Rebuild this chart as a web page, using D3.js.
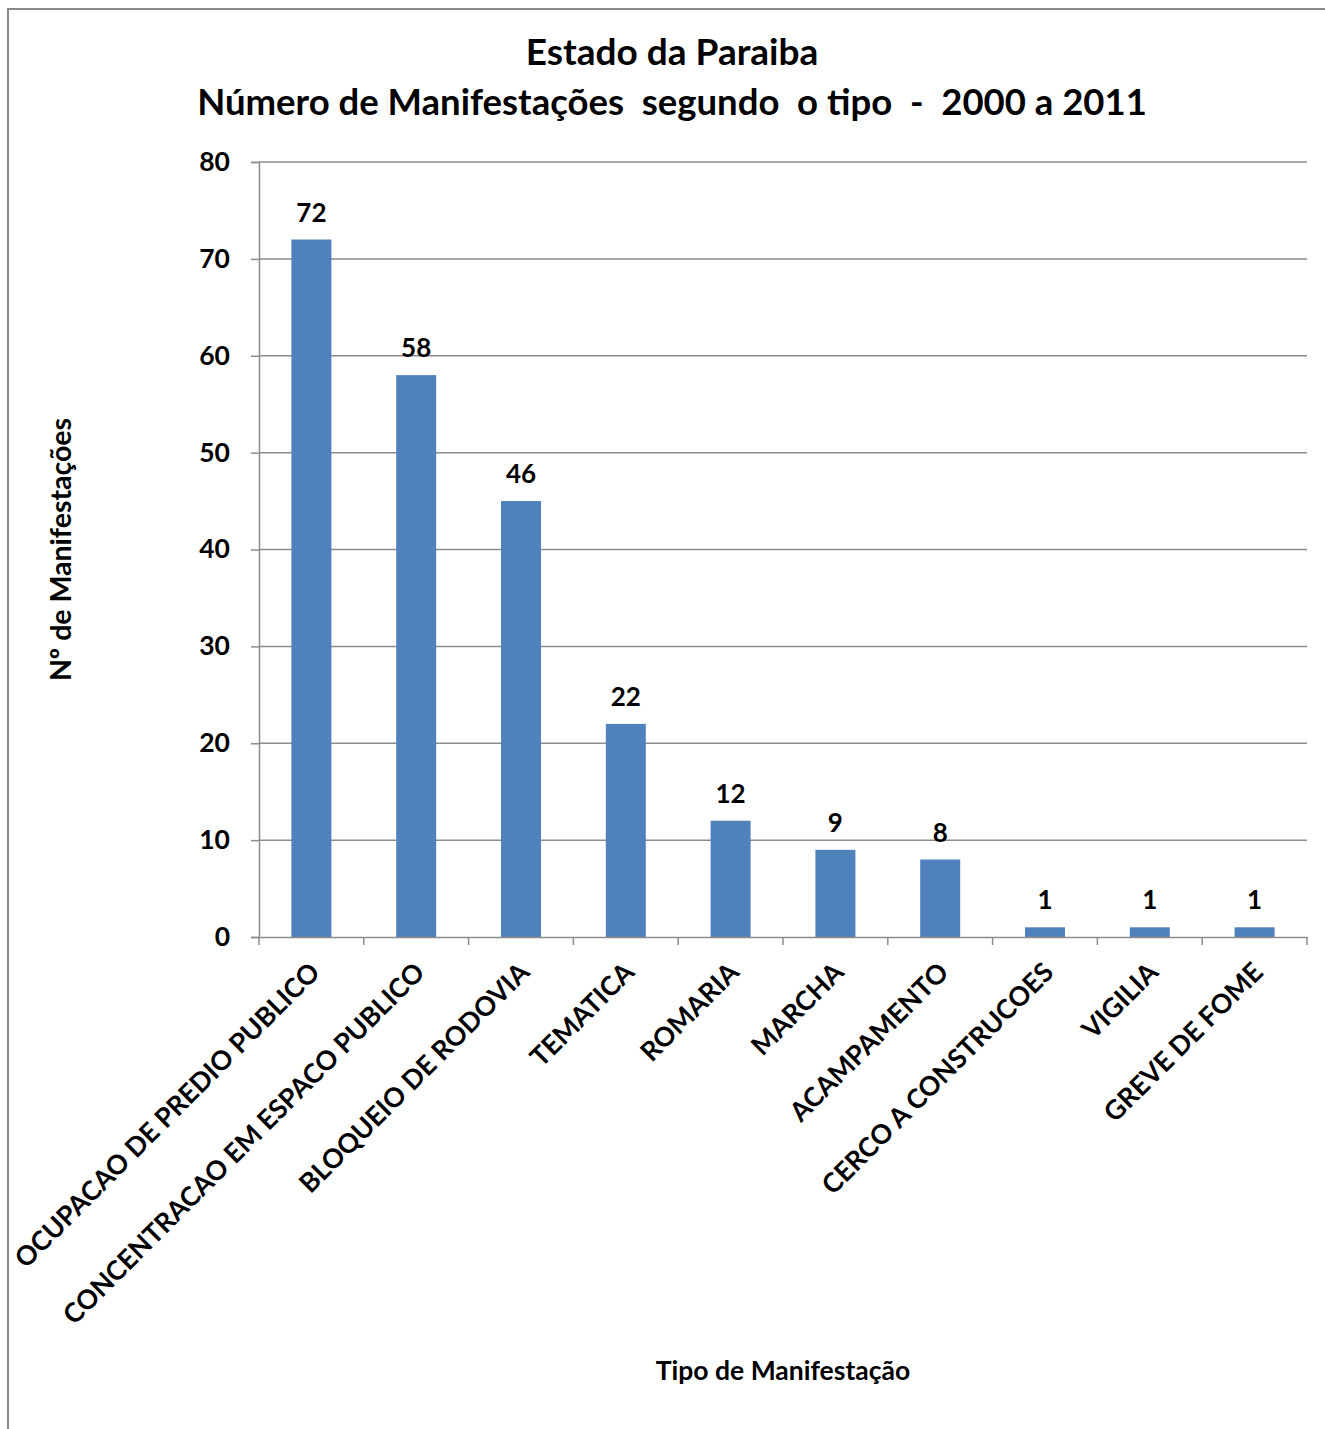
<!DOCTYPE html>
<html>
<head>
<meta charset="utf-8">
<script src="https://cdn.jsdelivr.net/npm/d3@7"></script>
<style>
  html, body { margin: 0; padding: 0; background: #fff; }
  svg text { font-family: Lato, "Open Sans", sans-serif; font-weight: bold; fill: #000; }
</style>
</head>
<body>
<svg id="chart" width="1325" height="1429"></svg>
<script>
const categories = [
  "OCUPACAO DE PREDIO PUBLICO",
  "CONCENTRACAO EM ESPACO PUBLICO",
  "BLOQUEIO DE RODOVIA",
  "TEMATICA",
  "ROMARIA",
  "MARCHA",
  "ACAMPAMENTO",
  "CERCO A CONSTRUCOES",
  "VIGILIA",
  "GREVE DE FOME"
];
const barValues = [72, 58, 45, 22, 12, 9, 8, 1, 1, 1];
const dataLabels = ["72", "58", "46", "22", "12", "9", "8", "1", "1", "1"];
const yTicks = [0, 10, 20, 30, 40, 50, 60, 70, 80];
const titleLines = ["Estado da Paraiba", "Número de Manifestações  segundo  o tipo  -  2000 a 2011"];
const yTitle = "Nº de Manifestações";
const xTitle = "Tipo de Manifestação";

const svg = d3.select("#chart");
const W = 1325, H = 1429;
const plot = { left: 259, right: 1307, top: 162, bottom: 937 };
const gridColor = "#8c8c8c";

// outer border
svg.append("rect")
  .attr("x", 8).attr("y", 9)
  .attr("width", W + 20).attr("height", H + 20)
  .attr("fill", "none").attr("stroke", "#8a8a8a").attr("stroke-width", 2);

const x = d3.scaleBand().domain(categories).range([plot.left, plot.right]).paddingInner(0).paddingOuter(0);
const y = d3.scaleLinear().domain([0, 80]).range([plot.bottom, plot.top]);

// gridlines
svg.append("g").selectAll("line").data(yTicks.filter(d => d > 0)).join("line")
  .attr("x1", plot.left).attr("x2", plot.right)
  .attr("y1", d => y(d)).attr("y2", d => y(d))
  .attr("stroke", gridColor).attr("stroke-width", 1.5);

// y axis
const yAxis = d3.axisLeft(y).tickValues(yTicks).tickSize(8).tickPadding(21);
const gy = svg.append("g").attr("transform", `translate(${plot.left},0)`).call(yAxis);
gy.select(".domain").attr("stroke", gridColor).attr("stroke-width", 1.5);
gy.selectAll(".tick line").attr("stroke", gridColor).attr("stroke-width", 1.5);
gy.selectAll(".tick text").style("font-size", "26.5px").attr("fill", "#000");

// bars
const barW = 40;
svg.append("g").selectAll("rect").data(categories).join("rect")
  .attr("x", (d) => x(d) + x.bandwidth() / 2 - barW / 2)
  .attr("width", barW)
  .attr("y", (d, i) => y(barValues[i]))
  .attr("height", (d, i) => y(0) - y(barValues[i]))
  .attr("fill", "#4F81BD");

// x axis
const xAxis = d3.axisBottom(x).tickSize(0).tickFormat("");
const gx = svg.append("g").attr("transform", `translate(0,${plot.bottom})`).call(xAxis);
gx.select(".domain").attr("stroke", gridColor).attr("stroke-width", 1.5);
// category boundary ticks
const bounds = categories.map(c => x(c)).concat([plot.right]);
svg.append("g").selectAll("line").data(bounds).join("line")
  .attr("x1", d => d).attr("x2", d => d)
  .attr("y1", plot.bottom).attr("y2", plot.bottom + 8)
  .attr("stroke", gridColor).attr("stroke-width", 1.5);

// category labels
svg.append("g").selectAll("text").data(categories).join("text")
  .attr("transform", d => `translate(${x(d) + x.bandwidth() / 2 + 10},${plot.bottom + 37}) rotate(-45)`)
  .attr("text-anchor", "end")
  .style("font-size", "26.7px")
  .text(d => d);

// data labels
svg.append("g").selectAll("text").data(categories).join("text")
  .attr("x", d => x(d) + x.bandwidth() / 2)
  .attr("y", (d, i) => y(barValues[i]) - 18)
  .attr("text-anchor", "middle")
  .style("font-size", "26px")
  .text((d, i) => dataLabels[i]);

// title
svg.append("text").attr("x", 672).attr("y", 65).attr("text-anchor", "middle")
  .style("font-size", "37px").text(titleLines[0]);
svg.append("text").attr("x", 672).attr("y", 115).attr("text-anchor", "middle")
  .style("font-size", "36.5px").style("white-space", "pre").attr("xml:space", "preserve").text(titleLines[1]);

// axis titles
svg.append("text")
  .attr("transform", `translate(71,${(plot.top + plot.bottom) / 2}) rotate(-90)`)
  .attr("text-anchor", "middle").style("font-size", "28.5px").text(yTitle);
svg.append("text")
  .attr("x", (plot.left + plot.right) / 2).attr("y", 1380)
  .attr("text-anchor", "middle").style("font-size", "26.5px").text(xTitle);
</script>
</body>
</html>
